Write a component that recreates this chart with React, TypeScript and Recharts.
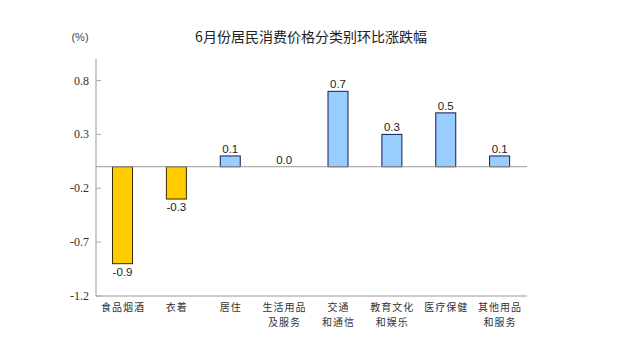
import React from 'react';
import { BarChart, Bar, XAxis, YAxis, ReferenceLine } from 'recharts';

const categories = ['食品烟酒', '衣着', '居住', '生活用品\n及服务', '交通\n和通信', '教育文化\n和娱乐', '医疗保健', '其他用品\n和服务'];
const values = [-0.9, -0.3, 0.1, 0.0, 0.7, 0.3, 0.5, 0.1];
const yTicks = [-1.2, -0.7, -0.2, 0.3, 0.8];
const title = '6月份居民消费价格分类别环比涨跌幅';
const unit = '(%)';

const data = categories.map((c, i) => ({ name: c, value: values[i] }));

const CJK = '"Noto Sans CJK SC", "Noto Sans", sans-serif';
const SERIF = '"Liberation Serif", "DejaVu Serif", serif';
const SANS = '"Liberation Sans", Arial, sans-serif';

const XTick = (props: any) => {
  const { x, y, payload } = props;
  const lines = String(payload.value).split('\n');
  return (
    <text x={x} y={y + 10} textAnchor="middle" fill="#333" style={{ fontFamily: CJK, fontSize: 10, letterSpacing: 1 }}>
      {lines.map((l, i) => (
        <tspan key={i} x={x} dy={i === 0 ? 0 : 14.5}>{l}</tspan>
      ))}
    </text>
  );
};

const YTick = (props: any) => {
  const { x, y, payload } = props;
  return (
    <g>
      <line x1={x + 7} x2={x + 12} y1={y} y2={y} stroke="#aaa" />
      <text x={x} y={y + 4} textAnchor="end" fill="#333" style={{ fontFamily: SERIF, fontSize: 12 }}>
        {payload.value.toFixed(1)}
      </text>
    </g>
  );
};

const BarShape = (props: any) => {
  const { x, y, width, height, payload } = props;
  const v = payload.value;
  const top = Math.min(y, y + height);
  const h = Math.abs(height);
  const bottom = top + h;
  const cx = x + width / 2;
  const neg = v < 0;
  const ty = neg ? bottom + 12 : top - 3;
  return (
    <g>
      {h > 0.5 && (
        <rect x={x + 0.5} y={top} width={width - 1} height={h} fill={neg ? '#FFCC00' : '#99CCFF'} stroke={neg ? '#3a2a00' : '#1a1a50'} strokeWidth={1} />
      )}
      <text x={cx} y={ty} textAnchor="middle" fill="#222" style={{ fontFamily: SANS, fontSize: 11.5 }}>
        {Number(v).toFixed(1)}
      </text>
    </g>
  );
};

export default function App() {
  return (
    <div style={{ position: 'absolute', left: 0, top: 0, width: 640, height: 363, background: '#fff' }}>
      <svg width={640} height={363} style={{ position: 'absolute', left: 0, top: 0 }}>
        <text x={80} y={41} textAnchor="middle" fill="#444" style={{ fontFamily: SANS, fontSize: 11 }}>{unit}</text>
        <text x={311} y={42} textAnchor="middle" fill="#222" style={{ fontFamily: CJK, fontSize: 14 }}>{title}</text>
      </svg>
      <div style={{ position: 'absolute', left: 0, top: 0 }}>
        <BarChart width={640} height={363} data={data} margin={{ top: 59, right: 113, left: 56, bottom: 27 }}>
          <XAxis dataKey="name" tick={<XTick />} tickLine={false} axisLine={{ stroke: '#999' }} height={40} interval={0} tickSize={0} tickMargin={5} />
          <XAxis xAxisId="top" dataKey="name" orientation="top" tick={false} tickLine={false} axisLine={{ stroke: '#999' }} height={0} />
          <YAxis domain={[-1.2, 1.0]} ticks={yTicks} tick={<YTick />} tickLine={false} axisLine={{ stroke: '#999' }} width={40} tickSize={0} tickMargin={7} allowDataOverflow />
          <YAxis yAxisId="r" orientation="right" domain={[-1.2, 1.0]} tick={false} tickLine={false} axisLine={{ stroke: '#999' }} width={0} />
          <ReferenceLine y={0} stroke="#999" />
          <Bar dataKey="value" barSize={21} isAnimationActive={false} shape={<BarShape />} minPointSize={0} />
        </BarChart>
      </div>
    </div>
  );
}
